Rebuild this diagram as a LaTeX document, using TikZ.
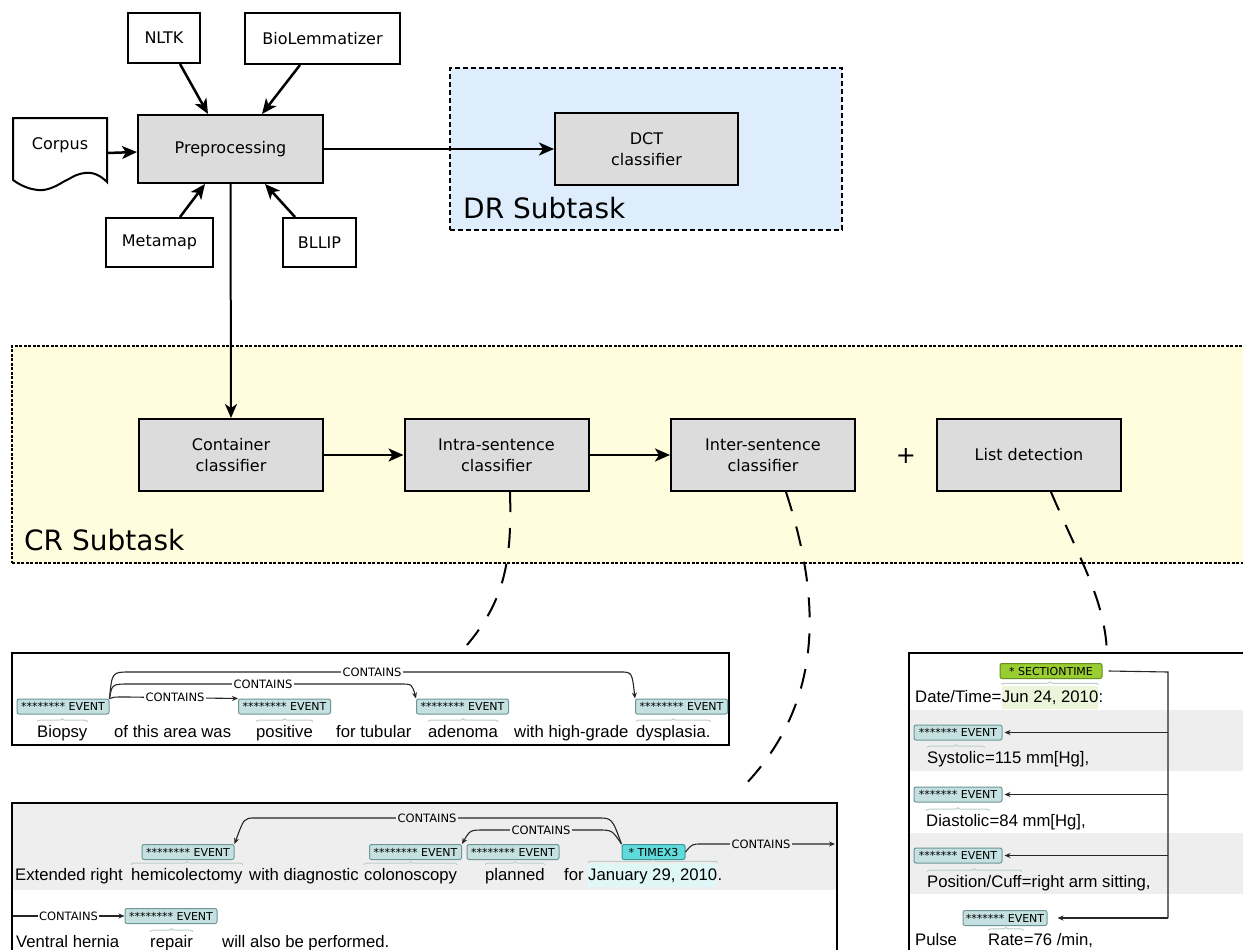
\documentclass[tikz,border=0pt]{standalone}
\usepackage{fontspec}
\setmainfont{DejaVu Sans}
\newfontfamily\bratfont{Liberation Sans}
\usetikzlibrary{arrows.meta,decorations.pathreplacing,calc}
\definecolor{boxgray}{RGB}{220,220,220}
\definecolor{drblue}{RGB}{221,237,252}
\definecolor{cryellow}{RGB}{255,253,222}
\definecolor{rowgray}{RGB}{238,238,238}
\definecolor{tagfill}{RGB}{196,224,224}
\definecolor{tagdraw}{RGB}{110,150,150}
\definecolor{timexfill}{RGB}{96,218,218}
\definecolor{timexdraw}{RGB}{60,150,150}
\definecolor{secfill}{RGB}{154,205,50}
\definecolor{secdraw}{RGB}{100,140,30}
\definecolor{bracecol}{RGB}{190,205,205}
\definecolor{janbg}{RGB}{224,247,247}
\definecolor{junbg}{RGB}{236,245,218}
\begin{document}
\begin{tikzpicture}[x=1pt,y=-1pt,
  plainbox/.style={draw, line width=2pt, fill=white, inner sep=0pt, align=center, font=\fontsize{16}{21}\selectfont},
  procbox/.style={plainbox, fill=boxgray},
  bigarrow/.style={line width=2.5pt, -{Stealth[length=15pt,width=13pt,inset=4pt]}},
  zoomlink/.style={line width=2pt, dash pattern=on 20pt off 16pt},
  brattag/.style={draw=tagdraw, fill=tagfill, rounded corners=2pt, line width=1pt, minimum width=92pt, minimum height=15pt, inner sep=0pt, font=\fontsize{11}{11}\selectfont},
  bratword/.style={anchor=base west, inner sep=0pt, font=\bratfont\fontsize{16.7}{20}\selectfont},
  relline/.style={draw=black!85, line width=1.1pt},
  relarrow/.style={relline, -{Stealth[length=6pt,width=5pt]}},
  rellabel/.style={font=\fontsize{11.5}{11.5}\selectfont, inner sep=1.5pt},
  spanbrace/.style={draw=bracecol, line width=1pt, decorate, decoration={brace, amplitude=3pt}},
  subtask/.style={anchor=base west, inner sep=0pt, font=\fontsize{28}{28}\selectfont},
]
\useasboundingbox (0,0) rectangle (1243,950);
\clip (0,0) rectangle (1243,950);

% ---------- containers ----------
\node[draw, line width=2pt, dash pattern=on 5pt off 3pt, fill=drblue, minimum width=392pt, minimum height=162pt, inner sep=0pt] (dr) at (646,149) {};
\node[subtask] at (463,218) {DR Subtask};
\node[draw, line width=2pt, dash pattern=on 3pt off 1.5pt, fill=cryellow, minimum width=1240pt, minimum height=217pt, inner sep=0pt] (cr) at (632,454.5) {};
\node[subtask] at (24,550) {CR Subtask};

% ---------- top pipeline ----------
\node[plainbox, minimum width=72pt, minimum height=50pt] (nltk) at (164,38) {NLTK};
\node[plainbox, minimum width=155pt, minimum height=51pt] (bio) at (322.5,38.5) {BioLemmatizer};
\node[procbox, minimum width=185pt, minimum height=68pt] (pre) at (230.5,149) {Preprocessing};
\node[plainbox, minimum width=107pt, minimum height=49pt] (meta) at (159.5,242.5) {Metamap};
\node[plainbox, minimum width=73pt, minimum height=49pt] (bllip) at (319.5,242.5) {BLLIP};
\draw[line width=2pt, fill=white] (13,118) -- (107,118) -- (107,182)
  .. controls (100,175) and (93,172) .. (85,173)
  .. controls (75,174) and (70,179) .. (63,182)
  .. controls (55,187) and (46,191) .. (38,190)
  .. controls (28,189) and (20,185) .. (13,180) -- cycle;
\node[minimum width=94pt, minimum height=64pt, inner sep=0pt] (corpus) at (60,150) {};
\node[font=\fontsize{16}{21}\selectfont, inner sep=0pt] at ([yshift=5pt]corpus.center) {Corpus};
\node[procbox, minimum width=183pt, minimum height=72pt] (dct) at (646.5,149) {DCT\\classifier};

\draw[bigarrow] ([yshift=-3pt]corpus.east) -- ([yshift=-3pt]pre.west);
\draw[bigarrow] ([xshift=16pt]nltk.south) -- ([xshift=-22.5pt]pre.north);
\draw[bigarrow] ([xshift=-22.5pt]bio.south) -- ([xshift=31.5pt]pre.north);
\draw[bigarrow] ([xshift=20.5pt]meta.north) -- ([xshift=-25.5pt]pre.south);
\draw[bigarrow] ([xshift=-24.5pt]bllip.north) -- ([xshift=34.5pt]pre.south);
\draw[bigarrow] (pre.east) -- (dct.west);

% ---------- CR pipeline ----------
\node[procbox, minimum width=184pt, minimum height=72pt] (cont) at (231,455) {Container\\classifier};
\node[procbox, minimum width=184pt, minimum height=72pt] (intra) at (496.5,455) {Intra-sentence\\classifier};
\node[procbox, minimum width=184pt, minimum height=72pt] (inter) at (763,455) {Inter-sentence\\classifier};
\node[procbox, minimum width=184pt, minimum height=72pt] (list) at (1029,455) {List detection};
\node[font=\fontsize{24}{24}\selectfont, inner sep=0pt] (plus) at (906,456) {+};
\draw[line width=2pt, -{Stealth[length=14pt,width=12pt,inset=4pt]}] (pre.south) -- (cont.north);
\draw[bigarrow] (cont.east) -- (intra.west);
\draw[bigarrow] (intra.east) -- (inter.west);

% ---------- example boxes ----------
\node[draw, line width=2pt, fill=white, minimum width=717pt, minimum height=92pt, inner sep=0pt] (box1) at (370.5,699) {};
\draw[line width=2pt, fill=white] (12,803) rectangle (837,975);
\fill[rowgray] (13,804) rectangle (836,890);
\draw[line width=2pt, fill=white] (909,653) rectangle (1260,975);
\fill[rowgray] (910,710) rectangle (1260,771);
\fill[rowgray] (910,833) rectangle (1260,894);

% dashed zoom links
\coordinate (l1end) at (467,645);
\coordinate (l2end) at (740,790);
\coordinate (l3end) at (1107,653);
\draw[zoomlink] ([xshift=13.5pt]intra.south) .. controls (512,560) and (505,600) .. (l1end);
\draw[zoomlink] ([xshift=23pt]inter.south) .. controls (818,590) and (830,700) .. (l2end);
\draw[zoomlink] ([xshift=22pt]list.south) .. controls (1080,560) and (1105,600) .. (l3end);

% ---------- box 1 ----------
\node[bratword] (w1) at (37,737) {Biopsy};
\node[bratword] at (114,737) {of this area was};
\node[bratword] (w2) at (256,737) {positive};
\node[bratword] at (336,737) {for tubular};
\node[bratword] (w3) at (428,737) {adenoma};
\node[bratword] at (514,737) {with high-grade};
\node[bratword] (w4) at (636,737) {dysplasia.};
\node[brattag] (t1) at (63,706.5) {******** EVENT};
\node[brattag] (t2) at (284.5,706.5) {******** EVENT};
\node[brattag] (t3) at (462.5,706.5) {******** EVENT};
\node[brattag] (t4) at (681.5,706.5) {******** EVENT};
\foreach \w in {w1,w2,w3,w4}
  \draw[spanbrace] ([yshift=3pt]\w.north west) -- ([yshift=3pt]\w.north east);
\draw[relarrow] (t1.north east) .. controls (113,697) .. (127,697) -- (t2.north west);
\node[rellabel, fill=white] at (175,697) {CONTAINS};
\draw[relarrow] (t1.north east) .. controls (112,684) .. (130,684) -- (400,684) .. controls (412,684) .. (t3.north west);
\node[rellabel, fill=white] at (263,684) {CONTAINS};
\draw[relarrow] (t1.north east) .. controls (112,672) .. (130,672) -- (620,672) .. controls (632,672) .. (t4.north west);
\node[rellabel, fill=white] at (372,672) {CONTAINS};

% ---------- box 2 ----------
\node[bratword] at (15,880) {Extended right};
\node[bratword] (hemi) at (131,880) {hemicolectomy};
\node[bratword] at (249,880) {with diagnostic};
\node[bratword] (colon) at (364,880) {colonoscopy};
\node[bratword] (plan) at (485,880) {planned};
\node[bratword] at (564,880) {for};
\node[bratword, fill=janbg, text height=14pt, text depth=5pt, inner ysep=2pt] (jan) at (588,880) {January 29, 2010};
\node[bratword] at (jan.base east) {.};
\node[brattag] (th) at (188,852) {******** EVENT};
\node[brattag] (tc) at (415.5,852) {******** EVENT};
\node[brattag] (tp) at (513,852) {******** EVENT};
\node[brattag, fill=timexfill, draw=timexdraw, minimum width=63pt] (tx) at (653.5,852) {* TIMEX3};
\foreach \w in {hemi,colon,plan}
  \draw[spanbrace] ([yshift=3pt]\w.north west) -- ([yshift=3pt]\w.north east);
\draw[spanbrace] ([yshift=1pt]jan.north west) -- ([yshift=1pt]jan.north east);
\draw[relarrow] (tx.north west) .. controls (612,818) .. (598,818) -- (255,818) .. controls (244,818) .. (th.north east);
\node[rellabel, fill=rowgray] at (427,818) {CONTAINS};
\draw[relarrow] (tx.north west) .. controls (612,830) .. (598,830) -- (485,830) .. controls (470,830) .. (tc.north east);
\node[rellabel, fill=rowgray] at (541,830) {CONTAINS};
\coordinate (arcCend) at (835,844);
\draw[relarrow] (tx.east) .. controls (692,844) .. (702,844) -- (arcCend);
\node[rellabel, fill=rowgray] at (761,844) {CONTAINS};

\node[bratword] at (16,947) {Ventral hernia};
\node[bratword] (rep) at (150,947) {repair};
\node[bratword] at (222,947) {will also be performed.};
\node[brattag] (tr) at (171,916) {******** EVENT};
\draw[spanbrace] ([yshift=3pt]rep.north west) -- ([yshift=3pt]rep.north east);
\coordinate (r2start) at (13,916);
\draw[relarrow] (r2start) -- (tr.west);
\node[rellabel, fill=white] at (68.5,916) {CONTAINS};

% ---------- box 3 ----------
\node[bratword] (dt) at (915,702) {Date/Time=};
\node[bratword, fill=junbg, text height=14pt, text depth=5pt, inner ysep=2pt] (jun) at (dt.base east) {Jun 24, 2010};
\node[bratword] at (jun.base east) {:};
\node[brattag, fill=secfill, draw=secdraw, minimum width=102pt] (st) at (1051,671) {* SECTIONTIME};
\draw[spanbrace] ([yshift=1pt]jun.north west) -- ([yshift=1pt]jun.north east);

\node[bratword] (sys) at (927,763) {Systolic};
\node[bratword] at (sys.base east) {=115 mm[Hg],};
\node[bratword] (dia) at (926,826) {Diastolic};
\node[bratword] at (dia.base east) {=84 mm[Hg],};
\node[bratword] (pos) at (927,887) {Position/Cuff};
\node[bratword] at (pos.base east) {=right arm sitting,};
\node[bratword] at (915,945) {Pulse};
\node[bratword] (rate) at (988,945) {Rate};
\node[bratword] at (rate.base east) {=76 /min,};
\foreach \w in {sys,dia,pos,rate}
  \draw[spanbrace] ([yshift=3pt]\w.north west) -- ([yshift=3pt]\w.north east);

\node[brattag, minimum width=88pt] (e1) at (958,732.5) {******* EVENT};
\node[brattag, minimum width=88pt] (e2) at (958,794.5) {******* EVENT};
\node[brattag, minimum width=88pt] (e3) at (958,855.5) {******* EVENT};
\node[brattag, minimum width=84pt] (e4) at (1005,918) {******* EVENT};

\coordinate (busTop) at (1168,672);
\coordinate (busBot) at (1168,918);
\draw[relline] ([xshift=6pt]st.east) -- (busTop) -- (busBot);
\draw[relarrow] (busBot) -- ([xshift=10pt]e4.east);
\foreach \e in {e1,e2,e3}
  \draw[relarrow] (busTop |- \e.east) -- ([xshift=2pt]\e.east);
\end{tikzpicture}
\end{document}
